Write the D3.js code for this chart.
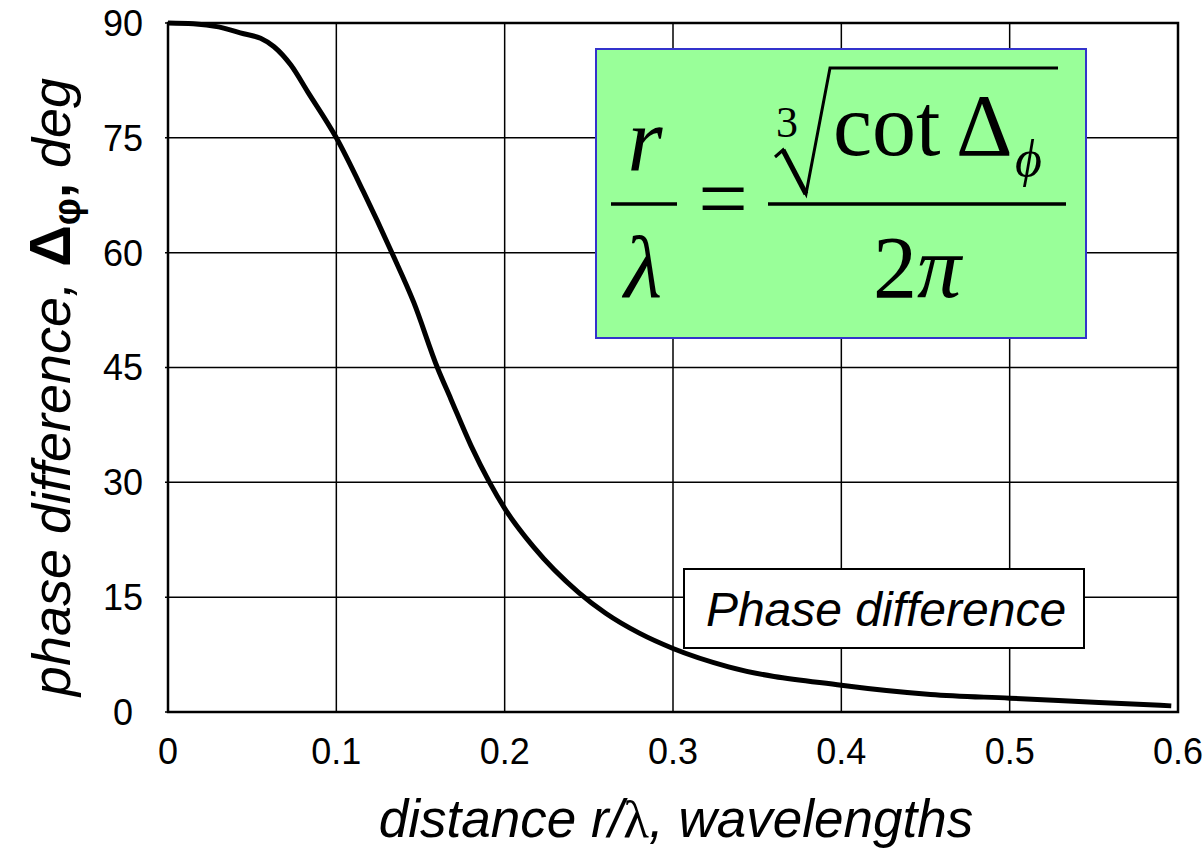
<!DOCTYPE html>
<html>
<head>
<meta charset="utf-8">
<script src="https://cdn.jsdelivr.net/npm/d3@7"></script>
<style>
  html, body { margin: 0; padding: 0; background: #fff; }
  svg { display: block; }
</style>
</head>
<body>
<svg id="chart" width="1204" height="851"></svg>
<script>
// Phase difference between near-field E and H components vs. distance
const distance = [0, 0.015, 0.03, 0.045, 0.055, 0.063, 0.073, 0.083, 0.1, 0.116,
                  0.133, 0.146, 0.16, 0.168, 0.18, 0.191, 0.2, 0.217, 0.244, 0.26,
                  0.28, 0.3, 0.333, 0.4, 0.453, 0.5, 0.553, 0.596];
const phaseDeg = [90, 89.9, 89.5, 88.6, 88.0, 86.9, 84.5, 81.0, 75, 68,
                  60, 53.5, 45, 40.9, 34.8, 30, 26.6, 21.6, 15.6, 12.9,
                  10.3, 8.3, 5.9, 3.5, 2.3, 1.8, 1.25, 0.8];
const xTicks = [0, 0.1, 0.2, 0.3, 0.4, 0.5, 0.6];
const yTicks = [0, 15, 30, 45, 60, 75, 90];
const xTickLabels = ["0", "0.1", "0.2", "0.3", "0.4", "0.5", "0.6"];
const yTickLabels = ["0", "15", "30", "45", "60", "75", "90"];
const seriesName = "Phase difference";

const sans = "'Liberation Sans', Arial, Helvetica, sans-serif";
const serif = "'Liberation Serif', 'Times New Roman', Times, serif";

const svg = d3.select("#chart");
const plot = { left: 168, right: 1178, top: 23, bottom: 712 };

const x = d3.scaleLinear().domain([0, 0.6]).range([plot.left, plot.right]);
const y = d3.scaleLinear().domain([0, 90]).range([plot.bottom, plot.top]);

// grid lines
const grid = svg.append("g");
grid.selectAll("line.vx").data(xTicks).join("line")
  .attr("x1", d => x(d)).attr("x2", d => x(d))
  .attr("y1", plot.top).attr("y2", plot.bottom)
  .attr("stroke", "#000").attr("stroke-width", 1.5);
grid.selectAll("line.hy").data(yTicks).join("line")
  .attr("x1", plot.left - 3).attr("x2", plot.right)
  .attr("y1", d => y(d)).attr("y2", d => y(d))
  .attr("stroke", "#000").attr("stroke-width", 1.5);

// plot frame
svg.append("rect")
  .attr("x", plot.left).attr("y", plot.top)
  .attr("width", plot.right - plot.left).attr("height", plot.bottom - plot.top)
  .attr("fill", "none").attr("stroke", "#000").attr("stroke-width", 2.5);

// tick labels
svg.append("g").selectAll("text").data(xTicks).join("text")
  .attr("x", d => x(d)).attr("y", 764)
  .attr("text-anchor", "middle")
  .attr("font-family", sans).attr("font-size", 36)
  .text((d, i) => xTickLabels[i]);
svg.append("g").selectAll("text").data(yTicks).join("text")
  .attr("x", 123).attr("y", d => y(d)).attr("dy", "0.36em")
  .attr("text-anchor", "middle")
  .attr("font-family", sans).attr("font-size", 36)
  .text((d, i) => yTickLabels[i]);

// axis titles
const xt = svg.append("text")
  .attr("x", 676).attr("y", 837)
  .attr("text-anchor", "middle")
  .attr("font-family", sans).attr("font-size", 53).attr("font-style", "italic");
xt.append("tspan").text("distance r/");
xt.append("tspan").attr("font-family", serif).attr("font-style", "normal").text("λ");
xt.append("tspan").text(", wavelengths");

const yt = svg.append("text")
  .attr("transform", "translate(70,387) rotate(-90)")
  .attr("text-anchor", "middle")
  .attr("font-family", sans).attr("font-size", 54).attr("font-style", "italic");
yt.append("tspan").text("phase difference, ");
yt.append("tspan").attr("font-style", "normal").attr("font-weight", "bold").attr("font-size", 58).text("Δ");
yt.append("tspan").attr("font-style", "normal").attr("font-weight", "bold").attr("font-size", 38)
  .attr("dy", 10).text("φ");
yt.append("tspan").attr("font-style", "normal").attr("font-weight", "bold").attr("dy", -10).text(",");
yt.append("tspan").text(" deg");

// formula box
svg.append("rect")
  .attr("x", 596).attr("y", 49).attr("width", 490).attr("height", 289)
  .attr("fill", "#99ff99").attr("stroke", "#3333cc").attr("stroke-width", 2);

const f = svg.append("g").attr("font-family", serif).attr("fill", "#000");
f.append("text").attr("x", 645).attr("y", 170).attr("text-anchor", "middle")
  .attr("font-size", 90).attr("font-style", "italic").text("r");
f.append("line").attr("x1", 611).attr("x2", 677).attr("y1", 204).attr("y2", 204)
  .attr("stroke", "#000").attr("stroke-width", 3.5);
f.append("text").attr("x", 643).attr("y", 297).attr("text-anchor", "middle")
  .attr("font-size", 88).attr("font-style", "italic").text("λ");
f.append("text").attr("x", 723).attr("y", 228).attr("text-anchor", "middle")
  .attr("font-size", 88).text("=");
f.append("line").attr("x1", 768).attr("x2", 1066).attr("y1", 204).attr("y2", 204)
  .attr("stroke", "#000").attr("stroke-width", 3.5);
f.append("text").attr("x", 787).attr("y", 137).attr("text-anchor", "middle")
  .attr("font-size", 44).text("3");
f.append("path")
  .attr("d", "M775,157 L783,150 L806,194 L830,68 L1058,68")
  .attr("fill", "none").attr("stroke", "#000").attr("stroke-width", 3)
  .attr("stroke-linejoin", "miter");
f.append("path")
  .attr("d", "M783,150 L806,194")
  .attr("fill", "none").attr("stroke", "#000").attr("stroke-width", 5);
f.append("text").attr("x", 833).attr("y", 155)
  .attr("font-size", 88).text("cot");
f.append("text").attr("x", 956).attr("y", 155)
  .attr("font-size", 88).text("Δ");
f.append("text").attr("x", 1015).attr("y", 176)
  .attr("font-size", 52).attr("font-style", "italic").text("ϕ");
const den = f.append("text").attr("x", 917).attr("y", 297).attr("text-anchor", "middle")
  .attr("font-size", 88);
den.append("tspan").text("2");
den.append("tspan").attr("font-style", "italic").text("π");

// series label box
svg.append("rect")
  .attr("x", 684).attr("y", 569).attr("width", 400).attr("height", 79)
  .attr("fill", "#fff").attr("stroke", "#000").attr("stroke-width", 2);
svg.append("text")
  .attr("x", 886).attr("y", 626).attr("text-anchor", "middle")
  .attr("font-family", sans).attr("font-size", 48).attr("font-style", "italic")
  .text(seriesName);

// phase curve
const line = d3.line()
  .x((d, i) => x(distance[i]))
  .y(d => y(d))
  .curve(d3.curveMonotoneX);
svg.append("path")
  .datum(phaseDeg)
  .attr("d", line)
  .attr("fill", "none").attr("stroke", "#000").attr("stroke-width", 5)
  .attr("stroke-linejoin", "round");
</script>
</body>
</html>
